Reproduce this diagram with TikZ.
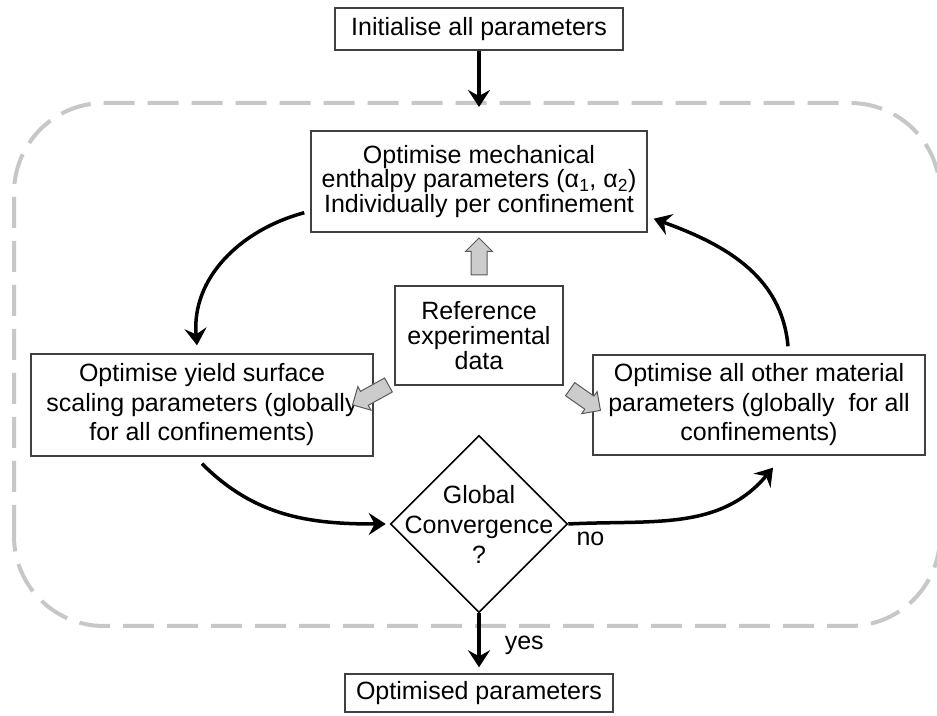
\documentclass[tikz,border=0pt]{standalone}
\usepackage{fontspec}
\setmainfont{Liberation Sans}
\usepackage{tikz}
\usetikzlibrary{arrows.meta,positioning,calc,shapes.geometric,shapes.arrows}
\tikzstyle{block}=[draw=black!75,line width=1.4pt,rectangle,align=center,inner sep=0pt]
\tikzstyle{decision}=[draw=black,line width=1.6pt,diamond,inner sep=0pt,minimum width=177pt,minimum height=177pt]
\tikzstyle{flow}=[line width=3.5pt,-{Stealth[length=17pt,width=22pt,inset=6pt]}]
\tikzstyle{dataarrow}=[draw=black!65,fill=black!20,line width=1pt,single arrow,single arrow head extend=5.5pt,inner sep=7.5pt,minimum height=37pt]

\begin{document}
\begin{tikzpicture}[x=1pt,y=1pt,font=\fontsize{25}{25}\selectfont]
\useasboundingbox (0,0) rectangle (937,715);
% optimisation loop
\draw[black!22,line width=4pt,dash pattern=on 31pt off 13pt,rounded corners=90pt] (14,89) rectangle (940,612);

\node [block,minimum width=288pt,minimum height=42pt] (init) at (479,686) {Initialise all parameters};
\coordinate (entry) at (479,608);
\node [block,minimum width=336pt,minimum height=101pt,font=\fontsize{25}{24.5}\selectfont] (mech) at (479,533.5)
  {Optimise mechanical\\enthalpy parameters (α\textsubscript{1}, α\textsubscript{2})\\Individually per confinement};
\node [block,minimum width=168pt,minimum height=99pt] (ref) at (479,379.5) {Reference\\experimental\\data};
\node [block,minimum width=342pt,minimum height=102pt,font=\fontsize{25}{29.5}\selectfont] (yield) at (202,310)
  {Optimise yield surface\\scaling parameters (globally\\for all confinements)};
\node [block,minimum width=332pt,minimum height=100pt,font=\fontsize{25}{29.5}\selectfont] (other) at (759,310)
  {Optimise all other material\\parameters (globally~ for all\\confinements)};
\node [decision] (conv) at (479,191) {};
\node [align=center,inner sep=0pt,font=\fontsize{25}{30}\selectfont] (convtext) at (conv) {Global\\Convergence\\?};
\node [block,minimum width=268pt,minimum height=38pt] (done) at (479,22) {Optimised parameters};

% data feeding
\node [dataarrow,rotate=90] (tomech) at (479,454.5) {};
\node [dataarrow,rotate=209,minimum height=41pt] (toyield) at (374,322) {};
\node [dataarrow,rotate=-35] (toother) at (582,317.5) {};

\draw[flow] (init) -- (entry);
\draw[flow] ([xshift=-6pt,yshift=20pt]mech.south west) to[out=195,in=95] ([xshift=-5pt,yshift=8pt]yield.north);
\draw[flow] ([yshift=-7pt]yield.south) to[out=-45,in=180] ([xshift=-4pt]conv.west);
\draw[flow] (conv.east) to[out=3,in=230] ([xshift=14pt,yshift=-12pt]other.south);
\draw[flow] ([xshift=29pt,yshift=8pt]other.north) to[out=95,in=-20] ([xshift=6pt,yshift=14pt]mech.south east);
\draw[flow] (conv.south) -- node[pos=0.6,right=24pt,inner sep=0pt] (yeslabel) {yes} ([yshift=6pt]done.north);
\node [below right=8pt and 8pt of conv.east,inner sep=0pt] (nolabel) {no};
\end{tikzpicture}
\end{document}
